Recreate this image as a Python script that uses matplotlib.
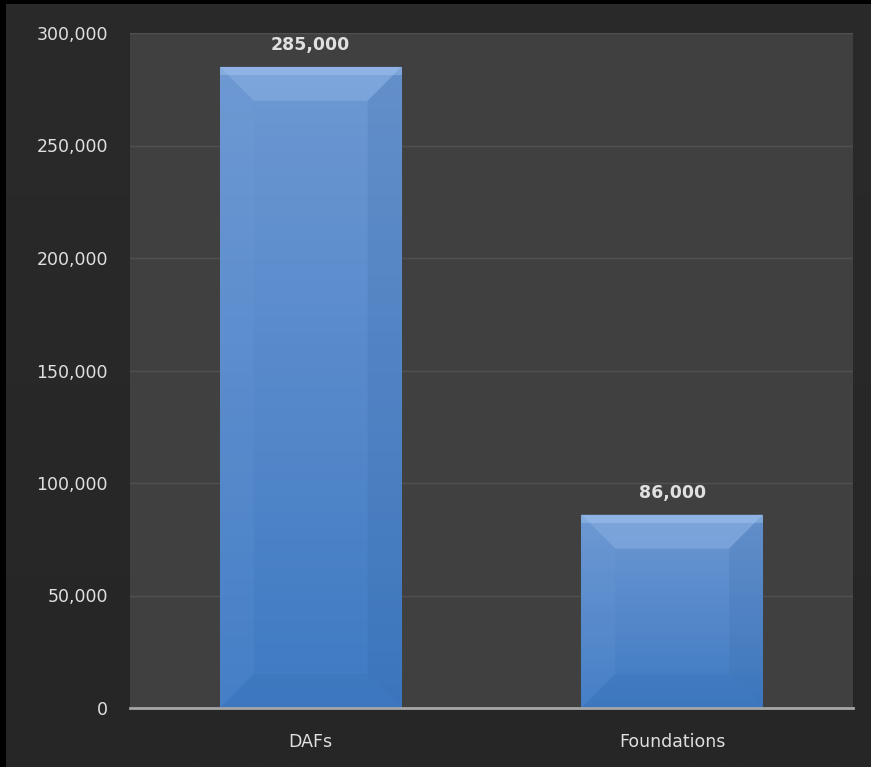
import matplotlib.pyplot as plt
import numpy as np
from matplotlib.patches import Polygon
from matplotlib.transforms import IdentityTransform
from matplotlib.ticker import FuncFormatter

categories = ["DAFs", "Foundations"]
values = [285000, 86000]

W, H = 871, 767
fig = plt.figure(figsize=(W / 100, H / 100), dpi=100)
fig.patch.set_facecolor("#000000")

# dark outer panel (black sliver on top/left like the screenshot)
bg = fig.add_axes([6 / W, 0, 1 - 6 / W, 1 - 4 / H])
grad = np.linspace(0, 1, 256).reshape(-1, 1) * np.ones((1, 2))
bg.imshow(grad, aspect="auto", cmap=plt.matplotlib.colors.LinearSegmentedColormap.from_list(
    "bg", ["#2a2a2a", "#262626"]), extent=[0, 1, 0, 1])
bg.axis("off")

ax = fig.add_axes([130 / W, 59 / H, 723 / W, 675 / H])
ax.set_facecolor("#404040")

x = np.arange(len(categories))
bars = ax.bar(x, values, width=0.503, color="#5b8fd0", zorder=2)

ax.set_ylim(0, 300000)
ax.set_xlim(-0.5, 1.5)
ax.set_yticks(np.arange(0, 300001, 50000))
ax.yaxis.set_major_formatter(FuncFormatter(lambda v, p: f"{int(v):,}"))
ax.set_xticks(x)
ax.set_xticklabels(categories)
ax.grid(axis="y", color="#505050", linewidth=1, zorder=0)
ax.tick_params(length=0, colors="#e0e0e0", labelsize=12.5)
ax.tick_params(axis="y", pad=16)
ax.tick_params(axis="x", pad=18)
for s in ["top", "right", "left"]:
    ax.spines[s].set_visible(False)
ax.spines["bottom"].set_color("#a6a6a6")
ax.spines["bottom"].set_linewidth(2)
ax.spines["bottom"].set_zorder(5)

fig.canvas.draw()
vgrad = np.linspace(0, 1, 256).reshape(-1, 1)
face_cmap = plt.matplotlib.colors.LinearSegmentedColormap.from_list(
    "face", ["#3f7ac3", "#6d98d2"])
ident = IdentityTransform()
for b, v in zip(bars, values):
    bb = b.get_window_extent()
    x0, y0, x1, y1 = bb.x0, bb.y0, bb.x1, bb.y1
    im = ax.imshow(vgrad, aspect="auto", cmap=face_cmap, origin="lower",
                   extent=[b.get_x(), b.get_x() + b.get_width(), 0, v], zorder=3)
    im.set_clip_path(b)
    d = 34
    inner = [(x0 + d, y1 - d), (x1 - d, y1 - d), (x1 - d, y0 + d), (x0 + d, y0 + d)]
    polys = [
        ([(x0, y1), (x1, y1), inner[1], inner[0]], "#9cc0ee", 0.35),
        ([(x0, y1), inner[0], inner[3], (x0, y0)], "#7aa6e0", 0.12),
        ([(x1, y1), (x1, y0), inner[2], inner[1]], "#2f5f9c", 0.15),
        ([(x0, y0), inner[3], inner[2], (x1, y0)], "#2f67ad", 0.15),
    ]
    for pts, c, a in polys:
        ax.add_patch(Polygon(pts, closed=True, transform=ident, facecolor=c,
                             edgecolor="none", alpha=a, zorder=4))
    # thin light rim at top
    ax.add_patch(Polygon([(x0, y1), (x1, y1), (x1, y1 - 8), (x0, y1 - 8)], transform=ident,
                         facecolor="#b0d0f5", edgecolor="none", alpha=0.35, zorder=4))
    ax.annotate(f"{v:,}", (b.get_x() + b.get_width() / 2, v), xytext=(0, 9),
                textcoords="offset points", ha="center", va="bottom",
                color="#e0e0e0", fontsize=12.5, fontweight="bold", zorder=6)

ax.set_xlim(-0.5, 1.5)
ax.set_ylim(0, 300000)
fig.savefig("out.png", dpi=100, facecolor=fig.get_facecolor())
